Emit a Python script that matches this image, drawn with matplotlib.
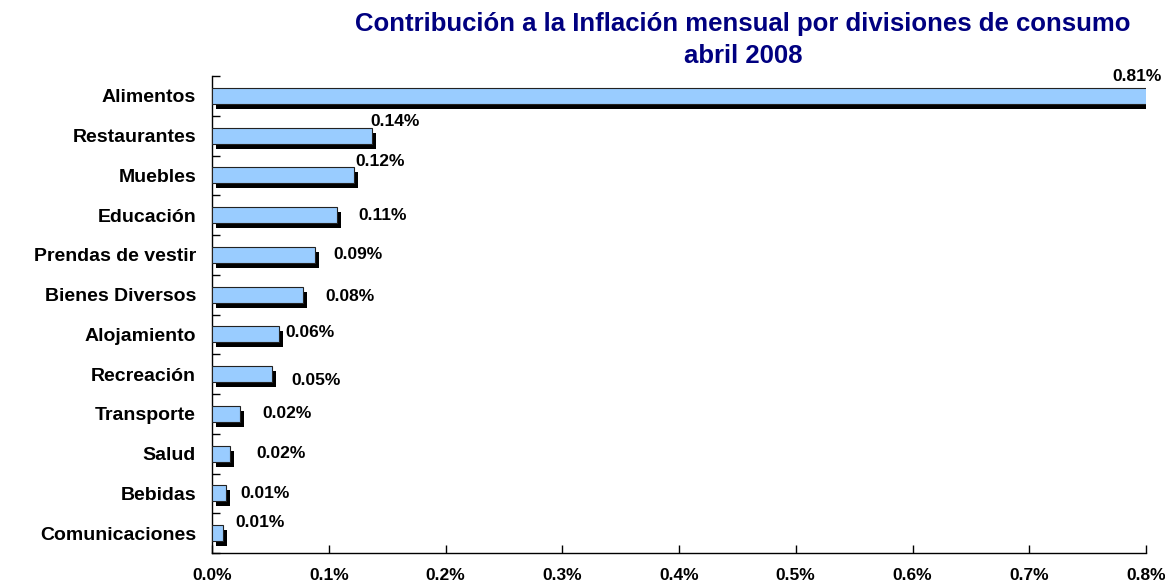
import matplotlib.pyplot as plt
import matplotlib.transforms as mtransforms
import numpy as np

categorias = ['Alimentos', 'Restaurantes', 'Muebles', 'Educación', 'Prendas de vestir',
              'Bienes Diversos', 'Alojamiento', 'Recreación', 'Transporte', 'Salud',
              'Bebidas', 'Comunicaciones']
valores = [0.81, 0.137, 0.122, 0.107, 0.088, 0.078, 0.057, 0.051, 0.024, 0.015, 0.012, 0.009]
etiquetas = ['0.81%', '0.14%', '0.12%', '0.11%', '0.09%', '0.08%', '0.06%', '0.05%',
             '0.02%', '0.02%', '0.01%', '0.01%']
x_ticks = [0.0, 0.1, 0.2, 0.3, 0.4, 0.5, 0.6, 0.7, 0.8]
x_tick_labels = ['0.0%', '0.1%', '0.2%', '0.3%', '0.4%', '0.5%', '0.6%', '0.7%', '0.8%']

# label offsets in pixels (dx from bar end, dy up from bar centre), as dragged in the original
label_dx = [0, -2, 1, 21, 19, 22, 7, 20, 22, 27, 14, 13]
label_dy = [19, 14, 14, 0, 0, -2, 2, -6, 0, 0, 0, 11]

plt.rcParams['font.family'] = ['Liberation Sans', 'DejaVu Sans']
plt.rcParams['font.weight'] = 'bold'

dpi = 100
fig = plt.figure(figsize=(11.65, 5.84), dpi=dpi)
ax = fig.add_axes([212 / 1165, 31 / 584, (1146 - 212) / 1165, (553 - 76) / 584])

y = np.arange(len(categorias))[::-1]

# shadow bars
shadow = ax.transData + mtransforms.ScaledTranslation(4 / dpi, -5 / dpi, fig.dpi_scale_trans)
ax.barh(y, valores, height=0.4, color='black', transform=shadow, zorder=2)
ax.barh(y, valores, height=0.4, color='#99CCFF', edgecolor='#222222', linewidth=0.8, zorder=3)

for i, (v, yy, lab) in enumerate(zip(valores, y, etiquetas)):
    if v > 0.8:
        ax.annotate(lab, xy=(0.8, yy), xytext=(16 * 0.72, label_dy[i] * 0.72),
                    textcoords='offset points', ha='right', va='center',
                    fontsize=12.5, fontweight='bold', annotation_clip=False)
    else:
        ax.annotate(lab, xy=(v, yy), xytext=(label_dx[i] * 0.72, label_dy[i] * 0.72),
                    textcoords='offset points', ha='left', va='center',
                    fontsize=12.5, fontweight='bold')

ax.set_xlim(0, 0.8)
ax.set_ylim(-0.5, len(categorias) - 0.5)
ax.set_xticks(x_ticks)
ax.set_xticklabels(x_tick_labels, fontsize=12.5, fontweight='bold')
ax.set_yticks(y)
ax.set_yticklabels(categorias, fontsize=14, fontweight='bold')
ax.set_yticks(np.arange(len(categorias) + 1) - 0.5, minor=True)
ax.tick_params(axis='y', which='major', length=0, pad=11.5)
ax.tick_params(axis='y', which='minor', direction='in', length=6, width=1)
ax.tick_params(axis='x', direction='in', length=6, width=1, pad=11)

for s in ['top', 'right']:
    ax.spines[s].set_visible(False)
for s in ['left', 'bottom']:
    ax.spines[s].set_linewidth(1)

fig.text(743 / 1165, 1 - 40 / 584, 'Contribución a la Inflación mensual por divisiones de consumo\nabril 2008',
         ha='center', va='center', fontsize=18.5, fontweight='bold', color='#000080', linespacing=1.4)

fig.savefig('out.png', dpi=dpi)
